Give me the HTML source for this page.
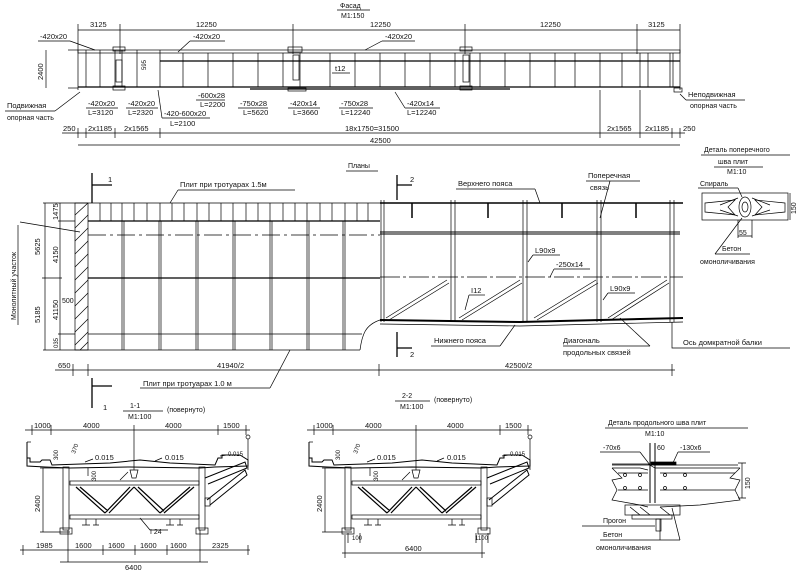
<!DOCTYPE html>
<html><head><meta charset="utf-8"><style>
html,body{margin:0;padding:0;background:#fff;}
svg{display:block;}
text{font-family:"Liberation Sans",sans-serif;font-size:7.5px;fill:#111;stroke:none;}
</style></head><body>
<svg width="798" height="577" viewBox="0 0 798 577" xmlns="http://www.w3.org/2000/svg" stroke="#000" fill="none" stroke-width="0.7">
<defs>
<g id="sec">
 <path d="M27 442 L27 458 L30 458 L30 462 L40 462 L42 460 L50 460 L52 465 L110 463 L140 460 L170 463 L215 465 L218 458 L222 458 L222 455 L240 455 L248 460 L248 466 L215 467 L200 468 L130 467 L70 468 L45 467 L27 466 Z" stroke-width="1"/>
 <line x1="27" y1="442" x2="31" y2="442"/>
 <circle cx="248" cy="437" r="2"/><line x1="248" y1="439" x2="248" y2="470"/>
 <rect x="63" y="467" width="6" height="63"/><rect x="60" y="528" width="12" height="6"/>
 <rect x="199" y="467" width="6" height="63"/><rect x="196" y="528" width="12" height="6"/>
 <rect x="70" y="481" width="129" height="4"/>
 <rect x="70" y="515" width="129" height="4"/>
 <path d="M76 487 L105 513 M80 487 L108 511 M105 513 L130 487 M109 513 L134 487 M134 487 L160 513 M138 487 L164 511 M160 513 L190 487 M164 513 L194 487" stroke-width="1.2"/>
 <path d="M130 470 L132 478 L136 478 L138 470 Z M120 480 L128 472"/>
 <path d="M205 478 L245 462 L247 468 L208 484 M207 500 L245 470 L247 475 L210 505" stroke-width="1"/>
 <rect x="205" y="498" width="5" height="8"/>
 <path d="M86 519 v6 M82 525 h8 M96 519 v6 M93 525 h6 M170 519 v6 M166 525 h8 M180 519 v6 M177 525 h6"/>
 <text x="95" y="460">0.015</text><text x="165" y="460">0.015</text><text x="228" y="456" style="font-size:6px">0.015</text>
 <path d="M85 462 L93 459 M155 461 L162 458 M220 456 L227 455"/>
 <line x1="88" y1="468" x2="88" y2="476"/>
 <line x1="25" y1="430" x2="250" y2="430"/>
 <path d="M32 425 v10 M51 425 v10 M134 425 v45 M218 425 v10 M246 425 v10"/>
 <text x="34" y="428">1000</text><text x="83" y="428">4000</text><text x="165" y="428">4000</text><text x="223" y="428">1500</text>
 <line x1="43" y1="468" x2="43" y2="532"/><line x1="40" y1="532" x2="70" y2="532"/><line x1="40" y1="468" x2="63" y2="468"/>
 <text x="40" y="512" transform="rotate(-90 40 512)">2400</text>
 <text x="58" y="460" style="font-size:6px" transform="rotate(-90 58 460)">300</text>
 <text x="75" y="454" style="font-size:6px" transform="rotate(-70 75 454)">370</text>
 <text x="96" y="481" style="font-size:6px" transform="rotate(-90 96 481)">300</text>
</g>
</defs>

<text x="340" y="8" style="font-size:7px">Фасад</text><line x1="337" y1="10" x2="370" y2="10"/>
<text x="341" y="18" style="font-size:7px">M1:150</text>
<line x1="78" y1="30" x2="680" y2="30"/>
<path d="M78 24 v66 M120 24 v30 M293 24 v30 M465 24 v30 M637 24 v30 M680 24 v66"/>
<text x="90" y="27">3125</text><text x="196" y="27">12250</text><text x="370" y="27">12250</text><text x="540" y="27">12250</text><text x="648" y="27">3125</text>
<rect x="78" y="50" width="602" height="3"/>
<line x1="160" y1="61" x2="680" y2="61" stroke-width="1.2"/>
<line x1="78" y1="87" x2="680" y2="87" stroke-width="1.3"/>
<path d="M250 89 L510 89" stroke-width="1.2"/><rect x="288" y="88" width="18" height="3"/>
<path d="M86 50 v37 M100 50 v37 M115 50 v37 M122 50 v37 M137 50 v37 M160 50 v37 M183 53 v34 M208 53 v34 M233 53 v34 M258 53 v34 M283 53 v34 M300 53 v34 M330 53 v34 M355 53 v34 M380 53 v34 M405 53 v34 M430 53 v34 M455 53 v34 M470 53 v34 M480 53 v34 M505 53 v34 M530 53 v34 M555 53 v34 M575 53 v34 M600 53 v34 M622 53 v34 M640 53 v34 M648 53 v34 M670 53 v34 M673 53 v34"/>
<rect x="116" y="60" width="6" height="22"/><rect x="113" y="47" width="12" height="4"/><rect x="113" y="86" width="12" height="4"/>
<rect x="288" y="47" width="14" height="5"/><rect x="293" y="55" width="6" height="25"/>
<rect x="460" y="47" width="12" height="4"/><rect x="463" y="55" width="6" height="27"/><rect x="460" y="86" width="12" height="4"/>
<rect x="674" y="88" width="8" height="4"/>
<line x1="46" y1="50" x2="46" y2="88"/><text x="43" y="80" transform="rotate(-90 43 80)">2400</text>
<line x1="68" y1="50" x2="78" y2="50"/><line x1="68" y1="88" x2="78" y2="88"/>
<text x="40" y="39">-420x20</text><line x1="38" y1="41" x2="70" y2="41"/><line x1="70" y1="41" x2="95" y2="50"/>
<text x="193" y="39">-420x20</text><line x1="190" y1="41" x2="225" y2="41"/><line x1="190" y1="41" x2="178" y2="52"/>
<text x="385" y="39">-420x20</text><line x1="382" y1="41" x2="415" y2="41"/><line x1="382" y1="41" x2="365" y2="50"/>
<text x="146" y="70" style="font-size:6px" transform="rotate(-90 146 70)">595</text>
<text x="335" y="71">t12</text><line x1="332" y1="73" x2="350" y2="73"/>
<text x="7" y="108">Подвижная</text><line x1="5" y1="111" x2="55" y2="111"/><text x="7" y="120" style="font-size:7px">опорная часть</text><line x1="55" y1="111" x2="80" y2="92"/>
<text x="88" y="106">-420x20</text><text x="88" y="115">L=3120</text><line x1="86" y1="108" x2="118" y2="108"/>
<text x="128" y="106">-420x20</text><text x="128" y="115">L=2320</text><line x1="126" y1="108" x2="158" y2="108"/>
<text x="164" y="116">-420-600x20</text><text x="170" y="126">L=2100</text><line x1="162" y1="118" x2="210" y2="118"/><line x1="162" y1="118" x2="158" y2="90"/>
<text x="198" y="98">-600x28</text><text x="200" y="107">L=2200</text><line x1="196" y1="100" x2="225" y2="100"/>
<text x="240" y="106">-750x28</text><text x="243" y="115">L=5620</text><line x1="238" y1="108" x2="268" y2="108"/>
<text x="290" y="106">-420x14</text><text x="293" y="115">L=3660</text><line x1="288" y1="108" x2="320" y2="108"/>
<text x="341" y="106">-750x28</text><text x="341" y="115">L=12240</text><line x1="339" y1="108" x2="373" y2="108"/>
<text x="407" y="106">-420x14</text><text x="407" y="115">L=12240</text><line x1="405" y1="108" x2="440" y2="108"/><line x1="405" y1="108" x2="395" y2="92"/>
<text x="688" y="97">Неподвижная</text><line x1="686" y1="100" x2="745" y2="100"/><text x="690" y="108" style="font-size:7px">опорная часть</text><line x1="686" y1="100" x2="680" y2="94"/>
<line x1="62" y1="133" x2="685" y2="133"/>
<path d="M78 128 v10 M86 128 v10 M115 128 v10 M160 128 v10 M600 90 v48 M640 90 v48 M672 128 v10 M680 128 v10"/>
<text x="63" y="131">250</text><text x="88" y="131">2x1185</text><text x="124" y="131">2x1565</text><text x="345" y="131">18x1750=31500</text>
<text x="607" y="131">2x1565</text><text x="645" y="131">2x1185</text><text x="683" y="131">250</text>
<line x1="78" y1="145" x2="680" y2="145"/><text x="370" y="143">42500</text>

<text x="348" y="168" style="font-size:7px">Планы</text><line x1="346" y1="171" x2="378" y2="171"/>
<path d="M92 173 v30 M92 185 h20" stroke-width="1.3"/><text x="108" y="182">1</text>
<path d="M92 378 v30 M92 386 h20" stroke-width="1.3"/><text x="103" y="410">1</text>
<path d="M397 175 v25 M397 185 h15" stroke-width="1.3"/><text x="410" y="182">2</text>
<path d="M397 332 v25 M397 348 h15" stroke-width="1.3"/><text x="410" y="357">2</text>
<rect x="75" y="203" width="13" height="147"/>
<path d="M75 215 L88 203 M75 228 L88 215 M75 241 L88 228 M75 254 L88 241 M75 267 L88 254 M75 280 L88 267 M75 293 L88 280 M75 306 L88 293 M75 319 L88 306 M75 332 L88 319 M75 345 L88 332 M80 350 L88 342"/>
<line x1="88" y1="203" x2="380" y2="203"/>
<line x1="88" y1="221" x2="380" y2="221" stroke-width="1.2"/>
<line x1="88" y1="235" x2="380" y2="235" stroke-dasharray="18 4 3 4"/>
<line x1="88" y1="278" x2="380" y2="278" stroke-width="1.2"/>
<line x1="88" y1="334" x2="362" y2="334"/>
<line x1="88" y1="350" x2="360" y2="350"/>
<path d="M100 203 v18 M111 203 v18 M122 203 v18 M134 203 v18 M147 203 v18 M160 203 v18 M172 203 v18 M184 203 v18 M197 203 v18 M209 203 v18 M221 203 v18 M233 203 v18 M246 203 v18 M258 203 v18 M270 203 v18 M283 203 v18 M295 203 v18 M307 203 v18 M320 203 v18 M332 203 v18 M345 203 v18 M357 203 v18 M368 203 v18"/>
<path d="M122 221 v129 M124 221 v129 M159 221 v129 M161 221 v129 M196 221 v129 M198 221 v129 M233 221 v129 M235 221 v129 M270 221 v129 M272 221 v129 M307 221 v129 M309 221 v129 M343 221 v129 M345 221 v129"/>
<path d="M360 350 C362 335, 365 325, 380 320"/>
<line x1="43" y1="203" x2="88" y2="203"/><line x1="43" y1="350" x2="88" y2="350"/>
<line x1="45" y1="203" x2="45" y2="350"/><line x1="60" y1="203" x2="60" y2="350"/>
<path d="M42 278 h20 M58 221 h17 M58 334 h17"/>
<text x="40" y="255" transform="rotate(-90 40 255)">5625</text><text x="40" y="323" transform="rotate(-90 40 323)">5185</text>
<text x="58" y="220" transform="rotate(-90 58 220)">1475</text><text x="58" y="263" transform="rotate(-90 58 263)">4150</text><text x="58" y="320" transform="rotate(-90 58 320)">41150</text><text x="58" y="348" style="font-size:6px" transform="rotate(-90 58 348)">035</text>
<text x="62" y="303" style="font-size:7px">500</text>
<text x="16" y="320" style="font-size:7px" transform="rotate(-90 16 320)">Монолитный участок</text><line x1="18" y1="225" x2="18" y2="325"/>
<line x1="20" y1="222" x2="80" y2="232"/>
<text x="180" y="187">Плит при тротуарах 1.5м</text><line x1="178" y1="190" x2="295" y2="190"/><line x1="178" y1="190" x2="170" y2="203"/>
<line x1="55" y1="370" x2="675" y2="370"/><path d="M73 364 v12 M88 364 v12 M379 364 v12 M672 364 v12"/>
<text x="58" y="368">650</text><text x="217" y="368">41940/2</text><text x="505" y="368">42500/2</text>
<text x="143" y="386">Плит при тротуарах 1.0 м</text><line x1="140" y1="388" x2="270" y2="388"/><line x1="270" y1="388" x2="290" y2="350"/>
<line x1="380" y1="203" x2="683" y2="203" stroke-width="1.4"/>
<line x1="380" y1="232" x2="680" y2="232" stroke-width="1"/><line x1="380" y1="234" x2="680" y2="234" stroke-width="1"/>
<line x1="380" y1="277" x2="683" y2="277" stroke-dasharray="20 3 3 3"/>
<path d="M380 320 L520 322 L683 318" stroke-width="2"/><path d="M380 324 L520 326 L683 322"/>
<path d="M381 200 v122 M384 200 v122 M451 200 v122 M455 200 v122 M523 200 v122 M527 200 v122 M597 200 v122 M601 200 v122 M670 200 v122 M674 200 v122"/>
<path d="M412 203 v15 M488 203 v15 M562 203 v15 M636 203 v15" stroke-width="1.5"/>
<path d="M386 318 L447 280 M389 320 L449 283 M459 318 L520 280 M462 320 L522 283 M534 318 L596 280 M537 320 L598 283 M608 318 L667 280 M611 320 L669 283"/>
<text x="458" y="186">Верхнего пояса</text><line x1="456" y1="189" x2="535" y2="189"/><line x1="535" y1="189" x2="540" y2="203"/>
<text x="588" y="178">Поперечная</text><text x="590" y="190">связь</text><line x1="586" y1="181" x2="640" y2="181"/><line x1="610" y1="181" x2="600" y2="218"/>
<text x="535" y="253">L90x9</text><line x1="533" y1="255" x2="560" y2="255"/><line x1="533" y1="255" x2="528" y2="262"/>
<text x="556" y="267">-250x14</text><line x1="554" y1="269" x2="590" y2="269"/><line x1="554" y1="269" x2="550" y2="277"/>
<text x="471" y="293">I12</text><line x1="469" y1="295" x2="485" y2="295"/><line x1="469" y1="295" x2="465" y2="310"/>
<text x="610" y="291">L90x9</text><line x1="608" y1="293" x2="635" y2="293"/><line x1="608" y1="293" x2="603" y2="300"/>
<text x="434" y="343">Нижнего пояса</text><line x1="431" y1="346" x2="500" y2="346"/><line x1="500" y1="346" x2="515" y2="325"/>
<text x="563" y="343">Диагональ</text><line x1="563" y1="346" x2="650" y2="346"/><line x1="650" y1="346" x2="620" y2="318"/>
<text x="563" y="355">продольных связей</text>
<text x="683" y="345">Ось домкратной балки</text><line x1="681" y1="348" x2="790" y2="348"/><path d="M672 322 v26 h9"/>
<text x="704" y="152" style="font-size:7px">Деталь поперечного</text><line x1="701" y1="155" x2="790" y2="155"/>
<text x="718" y="164" style="font-size:7px">шва плит</text><line x1="714" y1="167" x2="763" y2="167"/>
<text x="727" y="174" style="font-size:7px">M1:10</text>
<text x="700" y="186" style="font-size:7px">Спираль</text><line x1="698" y1="188" x2="738" y2="188"/><line x1="738" y1="188" x2="742" y2="197"/>
<rect x="702" y="193" width="86" height="27"/>
<path d="M705 203 L735 200 L728 207 L735 215 L705 212 Z M785 203 L755 200 L762 207 L755 215 L785 212 Z"/>
<ellipse cx="745" cy="207" rx="6" ry="10"/><ellipse cx="745" cy="207" rx="3" ry="5"/>
<path d="M720 205 L738 198 M720 210 L738 216 M770 205 L752 198 M770 210 L752 216"/>
<path d="M790 193 v27"/><text x="796" y="214" style="font-size:7px" transform="rotate(-90 796 214)">150</text>
<path d="M738 220 v18 M752 220 v18 M738 236 h14"/><text x="739" y="235" style="font-size:7px">55</text>
<text x="722" y="251" style="font-size:7px">Бетон</text><line x1="715" y1="254" x2="750" y2="254"/><line x1="715" y1="254" x2="742" y2="218"/>
<text x="700" y="264" style="font-size:7px">омоноличивания</text>

<text x="130" y="408" style="font-size:7px">1-1</text><line x1="123" y1="411" x2="163" y2="411"/><text x="128" y="419" style="font-size:7px">M1:100</text><text x="167" y="412" style="font-size:7px">(повернуто)</text>
<use href="#sec"/>
<path d="M140 518 L150 530 h18"/><text x="150" y="534" style="font-size:7px">I 24</text>
<line x1="20" y1="550" x2="250" y2="550"/>
<path d="M23 545 v10 M68 530 v32 M103 545 v10 M135 545 v10 M167 545 v10 M200 530 v32 M248 545 v10"/>
<text x="36" y="548">1985</text><text x="75" y="548">1600</text><text x="108" y="548">1600</text><text x="140" y="548">1600</text><text x="170" y="548">1600</text><text x="212" y="548">2325</text>
<line x1="60" y1="562" x2="208" y2="562"/><text x="125" y="570">6400</text>

<text x="402" y="398" style="font-size:7px">2-2</text><line x1="395" y1="401" x2="430" y2="401"/><text x="400" y="409" style="font-size:7px">M1:100</text><text x="434" y="402" style="font-size:7px">(повернуто)</text>
<use href="#sec" transform="translate(282 0)"/>
<path d="M348 533 v10 M360 533 v10 M476 533 v10 M488 533 v10"/><text x="352" y="540" style="font-size:6px">100</text><text x="475" y="540" style="font-size:6px">1100</text>
<line x1="342" y1="553" x2="485" y2="553"/><path d="M345 535 v23 M482 535 v23"/><text x="405" y="551">6400</text>

<text x="608" y="425" style="font-size:7px">Деталь продольного шва плит</text><line x1="605" y1="428" x2="748" y2="428"/>
<text x="645" y="436" style="font-size:7px">M1:10</text>
<text x="603" y="450" style="font-size:7px">-70x6</text><line x1="600" y1="452" x2="640" y2="452"/><line x1="640" y1="452" x2="650" y2="465"/>
<text x="680" y="450" style="font-size:7px">-130x6</text><line x1="678" y1="452" x2="710" y2="452"/><line x1="678" y1="452" x2="672" y2="465"/>
<text x="657" y="450" style="font-size:7px">60</text>
<path d="M650 443 v60 M655 443 v60" stroke-width="1"/>
<rect x="651" y="462" width="25" height="3" fill="#000"/>
<path d="M612 464 L648 464 L655 468 L740 468 M612 465 L738 465"/>
<path d="M612 468 L640 468 L648 470 M612 468 L622 478 L612 480 L617 490 L612 500 L640 505 L648 507 M740 468 L730 478 L740 480 L735 490 L740 500 L700 505 L660 507"/>
<path d="M618 490 h30 M660 490 h75 M618 473 h30 M660 473 h75"/>
<circle cx="625" cy="475" r="1.5"/><circle cx="640" cy="475" r="1.5"/><circle cx="665" cy="475" r="1.5"/><circle cx="685" cy="475" r="1.5"/><circle cx="625" cy="488" r="1.5"/><circle cx="640" cy="488" r="1.5"/><circle cx="665" cy="488" r="1.5"/><circle cx="685" cy="488" r="1.5"/>
<rect x="625" y="505" width="55" height="10"/><rect x="632" y="515" width="40" height="4"/>
<path d="M630 507 L640 515 M640 507 L650 515 M660 507 L670 515"/>
<rect x="656" y="519" width="5" height="12"/>
<path d="M742 463 v35 M738 463 h8 M738 498 h8"/><text x="750" y="489" style="font-size:7px" transform="rotate(-90 750 489)">150</text>
<text x="603" y="523" style="font-size:7px">Прогон</text><line x1="582" y1="526" x2="655" y2="526"/>
<text x="603" y="537" style="font-size:7px">Бетон</text><line x1="600" y1="540" x2="680" y2="540"/><line x1="680" y1="540" x2="672" y2="508"/><line x1="660" y1="540" x2="660" y2="519"/>
<text x="596" y="550" style="font-size:7px">омоноличивания</text>
</svg>
</body></html>
